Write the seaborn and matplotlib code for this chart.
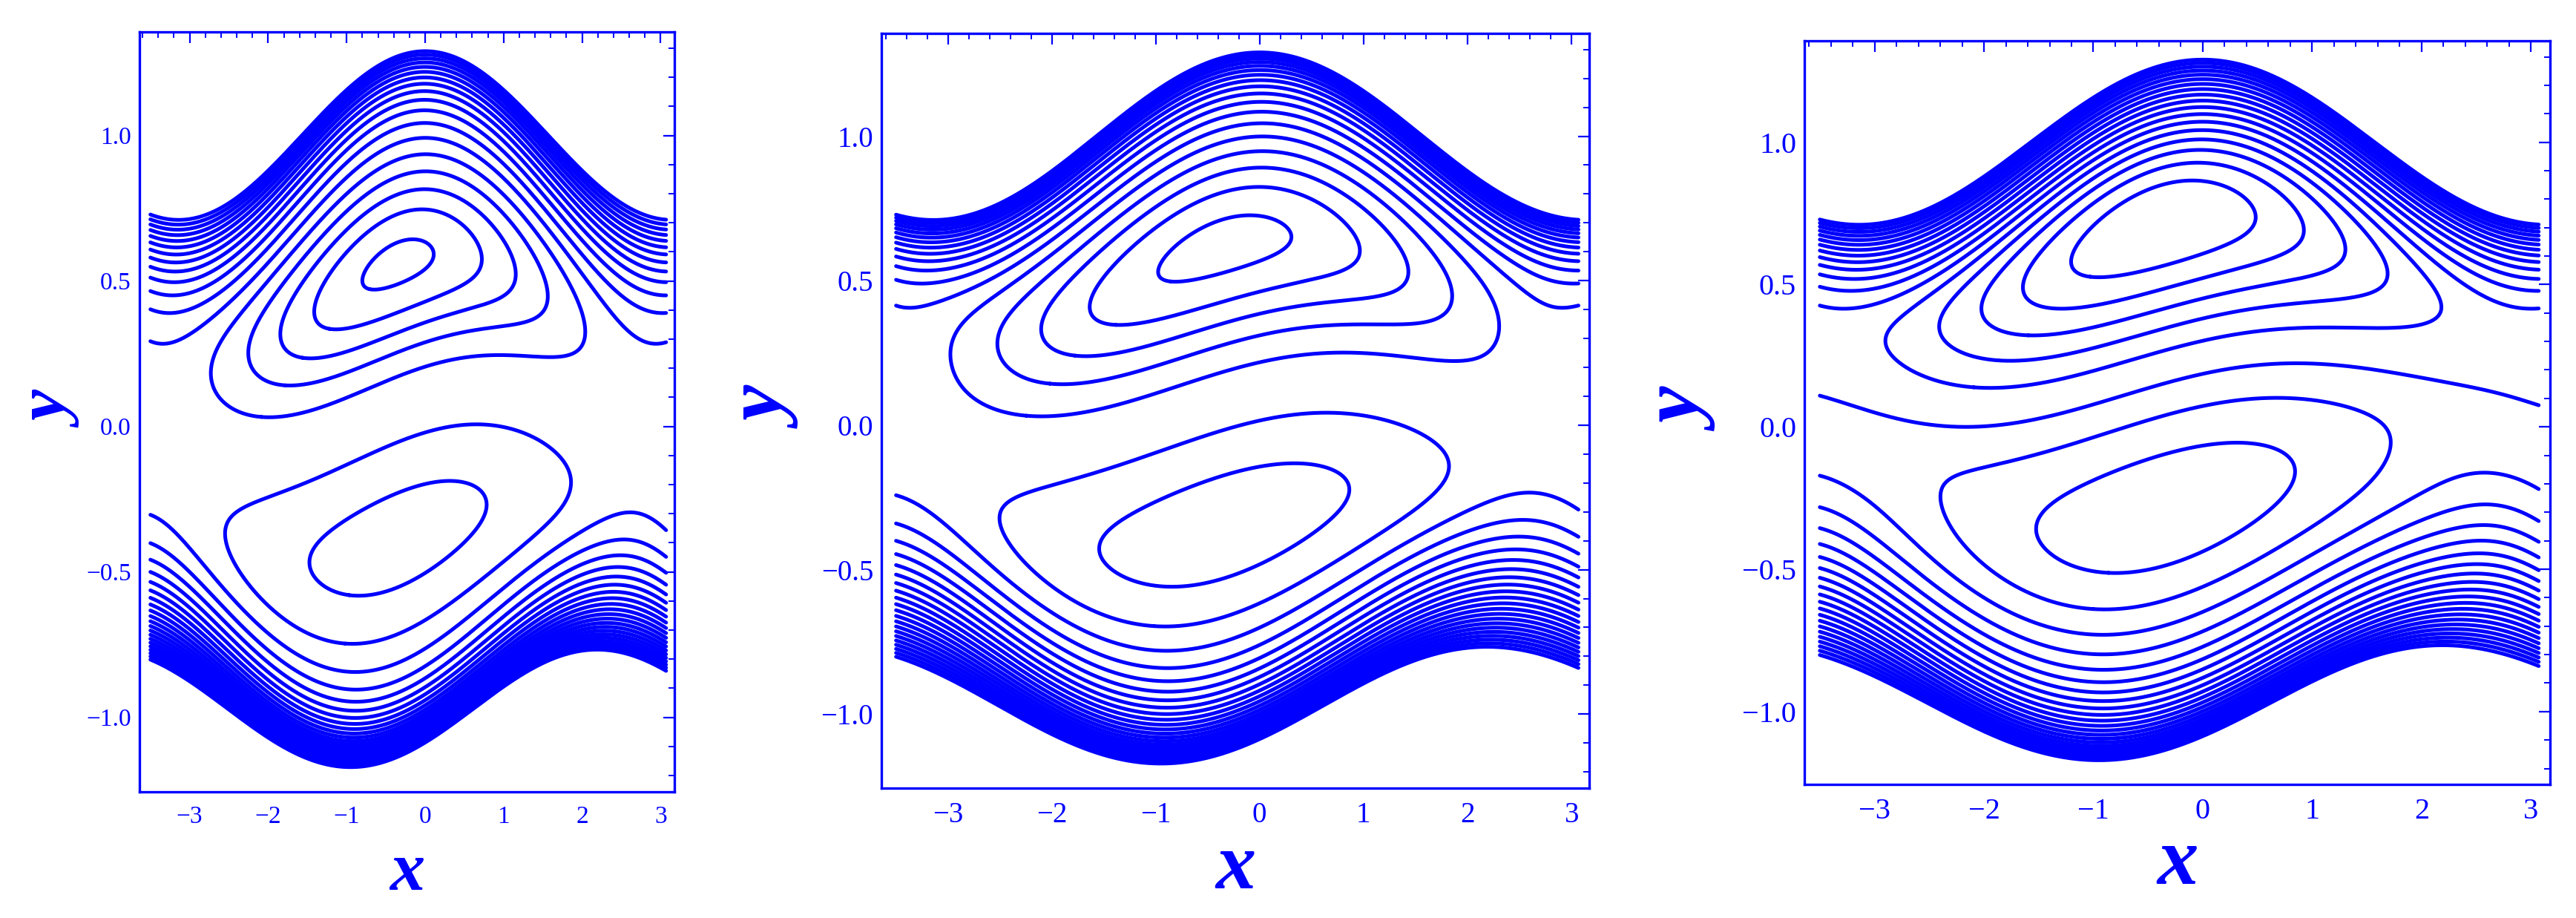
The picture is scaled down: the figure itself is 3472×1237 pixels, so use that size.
import numpy as np
import pandas as pd
import seaborn as sns
import matplotlib.pyplot as plt
import contourpy

# channel walls, same for all three panels
A_UP = 0.29      # upper wall  h1 = 1 + a cos x
D_LOW = 0.969    # lower wall  h2 = -d - b cos(x + phi)
B_LOW = 0.202
PHI = 0.95
X_RANGE = [-3.5, 3.07]
EPS = 0.05

# stream function: profile across the channel at the narrow section (eta = -1 .. 1)
top_val = [12.5, 12.5, 13.06]
dip_val = [0.0, 0.0, 1.29]
dip_w = [0.62, 0.62, 0.62]
dip_pow = [4, 4, 2]
top_pow = [3.82, 6.07, 5.0]
bot_span = [20.5, 20.5, 19.77]
bot_lin = [0.0, 0.0, 0.196]
bot_pow = [3.53, 2.83, 3.0]
# squeeze of the open streamlines towards the walls at the wide section
up_squeeze = [2.2, 1.6, 1.6]
lo_squeeze = [2.9, 2.7, 2.7]
lo_squeeze_k = [1.0, 1.0, 0.8]
# upper eddy
up_amp = [4.75, 4.85, 5.45]
up_shape = [4.95, 3.73, 2.7]
up_k = [1.0, 0.62, 1.0]
up_x0 = [-0.345, -0.335, -0.36]
# lower eddy
lo_amp = [1.9, 2.0, 2.05]
lo_shape = [5.9, 7.0, 8.0]
lo_flat = [0.75, 0.6, 0.5]
lo_k = [0.6, 0.6, 0.8]
lo_x0 = [-0.345, -0.34, -0.34]

levels = list(range(-8, 19))

# axes boxes in figure fraction, and font sizes per panel
boxes = [[0.0541, 0.1374, 0.2076, 0.8278],
         [0.3421, 0.1415, 0.2747, 0.8222],
         [0.7003, 0.1455, 0.2894, 0.8100]]
tick_size = [24, 28, 29]
label_size = [68, 78, 80]

BLUE = "#0000ff"


def envelope(x, k, x0):
    g = (1 + np.cos(x - x0)) / 2
    return ((g + EPS) ** k - EPS ** k) / ((1 + EPS) ** k - EPS ** k)


def hill(u, q):
    # u^2 (1-u^2)^q scaled to a peak of 1
    up = 1 / np.sqrt(1 + q)
    peak = up ** 2 * (1 - up ** 2) ** q
    return u ** 2 * np.clip(1 - u ** 2, 0, None) ** q / peak


def stream(x, y, i):
    h1 = 1 + A_UP * np.cos(x)
    h2 = -D_LOW - B_LOW * np.cos(x + PHI)
    eta = (y - (h1 + h2) / 2) / ((h1 - h2) / 2)
    up = np.clip(eta, 0, None)
    z = np.clip(-eta, 0, None)
    fu = envelope(x, up_k[i], up_x0[i])
    fl = envelope(x, lo_k[i], lo_x0[i])
    fs = envelope(x, lo_squeeze_k[i], lo_x0[i])
    uw = up ** (1 + (up_squeeze[i] - 1) * fu)
    zw = z ** (1 + (lo_squeeze[i] - 1) * fs)
    core = top_val[i] - dip_val[i]
    dip = dip_val[i] * np.clip(1 - (uw / dip_w[i]) ** dip_pow[i], 0, None) ** 2
    upper = top_val[i] * (1 - uw ** top_pow[i]) - dip
    lam = bot_lin[i]
    lower = core - bot_span[i] * (lam * zw + (1 - lam) * zw ** bot_pow[i])
    base = np.where(eta >= 0, upper, lower)
    psi = (base + up_amp[i] * fu * hill(up, up_shape[i])
           + lo_amp[i] * fl * hill(z, lo_shape[i]) ** lo_flat[i])
    # outside the upper wall keep the field just below the wall value
    return np.where(eta > 1, np.maximum(psi, -0.5), psi)


xg = np.linspace(X_RANGE[0], X_RANGE[1], 900)
yg = np.linspace(-1.22, 1.32, 1100)
XX, YY = np.meshgrid(xg, yg)

sns.set_style("white")
plt.rcParams['font.family'] = ['Liberation Serif', 'DejaVu Serif']

fig = plt.figure(figsize=(34.73, 12.37), dpi=100)

for i in range(3):
    Z = stream(XX, YY, i)
    gen = contourpy.contour_generator(xg, yg, Z, line_type=contourpy.LineType.Separate)
    frames = []
    seg = 0
    for lev in levels:
        for line in gen.lines(lev):
            if len(line) < 2:
                continue
            frames.append(pd.DataFrame({"x": line[:, 0], "y": line[:, 1], "seg": seg}))
            seg += 1
    df = pd.concat(frames, ignore_index=True)

    ax = fig.add_axes(boxes[i])
    sns.lineplot(data=df, x="x", y="y", units="seg", estimator=None, sort=False,
                 color=BLUE, linewidth=3.6, ax=ax, legend=False)

    ax.set_xlim(-3.64, 3.175)
    ax.set_ylim(-1.256, 1.356)
    ax.set_xticks([-3, -2, -1, 0, 1, 2, 3])
    ax.set_xticks(np.arange(-3.6, 3.2, 0.2), minor=True)
    ax.set_yticks([-1.0, -0.5, 0.0, 0.5, 1.0])
    ax.set_yticklabels(["\u22121.0", "\u22120.5", "0.0", "0.5", "1.0"])
    ax.set_yticks(np.arange(-1.2, 1.35, 0.1), minor=True)
    ax.tick_params(which="both", direction="in", top=True, right=True,
                   colors=BLUE, labelcolor=BLUE, labelsize=tick_size[i])
    ax.tick_params(which="major", length=11, width=1.6)
    ax.tick_params(which="minor", length=6, width=1.4)
    ax.tick_params(axis="x", pad=13)
    ax.tick_params(axis="y", pad=8)
    for sp in ax.spines.values():
        sp.set_color(BLUE)
        sp.set_linewidth(2.4)

    ax.set_xlabel("x", fontsize=label_size[i], fontstyle="italic", fontweight="bold", color=BLUE)
    ax.set_ylabel("y", fontsize=label_size[i], fontstyle="italic", fontweight="bold", color=BLUE)
    ax.xaxis.set_label_coords(0.5, -0.107)
    ax.xaxis.label.set_va("center")
    ax.yaxis.set_label_coords(-0.158, 0.5)
    ax.yaxis.label.set_va("center")

fig.savefig("out.png", dpi=100)
